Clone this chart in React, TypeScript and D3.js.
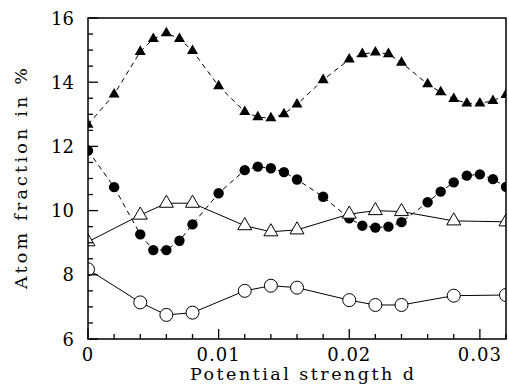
import * as d3 from "d3";
import React from "react";

// x positions (potential strength d)
const dDense = [0, 0.002, 0.004, 0.005, 0.006, 0.007, 0.008, 0.01, 0.012, 0.013, 0.014, 0.015, 0.016, 0.018, 0.02, 0.021, 0.022, 0.023, 0.024, 0.026, 0.027, 0.028, 0.029, 0.03, 0.031, 0.032];
const filledTri = [12.68, 13.62, 14.95, 15.35, 15.53, 15.35, 14.98, 13.88, 13.08, 12.91, 12.88, 13.01, 13.31, 14.07, 14.71, 14.88, 14.93, 14.88, 14.61, 13.94, 13.69, 13.48, 13.34, 13.34, 13.42, 13.61];
const filledCirc = [11.87, 10.73, 9.26, 8.77, 8.77, 9.06, 9.57, 10.54, 11.26, 11.37, 11.32, 11.2, 10.97, 10.43, 9.76, 9.53, 9.47, 9.5, 9.64, 10.26, 10.59, 10.88, 11.09, 11.13, 10.98, 10.74];

const dSparse = [0, 0.004, 0.006, 0.008, 0.012, 0.014, 0.016, 0.02, 0.022, 0.024, 0.028, 0.032];
const openTri = [9.03, 9.86, 10.23, 10.23, 9.53, 9.34, 9.4, 9.89, 10.0, 9.97, 9.68, 9.65];
const openCirc = [8.17, 7.14, 6.75, 6.82, 7.5, 7.66, 7.6, 7.21, 7.06, 7.06, 7.35, 7.37];

const xTicks = [0, 0.01, 0.02, 0.03];
const yTicks = [6, 8, 10, 12, 14, 16];

const font = "'DejaVu Serif', serif";

export default function App() {
  const W = 509;
  const H = 388;
  const m = { top: 18, right: 3, bottom: 49, left: 88 };
  const x = d3.scaleLinear().domain([0, 0.032]).range([m.left, W - m.right]);
  const y = d3.scaleLinear().domain([6, 16]).range([H - m.bottom, m.top]);

  const line = d3
    .line<[number, number]>()
    .x((d) => x(d[0]))
    .y((d) => y(d[1]));

  const zip = (xs: number[], ys: number[]) => xs.map((v, i) => [v, ys[i]] as [number, number]);

  const tri = (cx: number, cy: number, s: number) => {
    const h = (s * Math.sqrt(3)) / 2;
    return `M${cx},${cy - (2 * h) / 3}L${cx + s / 2},${cy + h / 3}L${cx - s / 2},${cy + h / 3}Z`;
  };

  const minorX = d3.range(0, 0.0321, 0.002);
  const minorY = d3.range(6, 16.01, 0.5);

  return (
    <svg width={W} height={H} style={{ position: "absolute", left: 0, top: 0, background: "#fff" }}>
      <defs>
        <clipPath id="plot">
          <rect x={m.left} y={m.top} width={x(0.032) - m.left} height={y(6) - m.top} />
        </clipPath>
      </defs>

      <g clipPath="url(#plot)">
        {/* dashed series */}
        <path d={line(zip(dDense, filledTri)) ?? undefined} fill="none" stroke="#000" strokeWidth={1} strokeDasharray="5 4" />
        <path d={line(zip(dDense, filledCirc)) ?? undefined} fill="none" stroke="#000" strokeWidth={1} strokeDasharray="5 4" />
        {/* solid series */}
        <path d={line(zip(dSparse, openTri)) ?? undefined} fill="none" stroke="#000" strokeWidth={1} />
        <path d={line(zip(dSparse, openCirc)) ?? undefined} fill="none" stroke="#000" strokeWidth={1} />

        {dDense.map((d, i) => (
          <path key={"ft" + i} d={tri(x(d), y(filledTri[i]), 11)} fill="#000" />
        ))}
        {dDense.map((d, i) => (
          <circle key={"fc" + i} cx={x(d)} cy={y(filledCirc[i])} r={5.2} fill="#000" />
        ))}
        {dSparse.map((d, i) => (
          <path key={"ot" + i} d={tri(x(d), y(openTri[i]), 14)} fill="#fff" stroke="#000" strokeWidth={1} />
        ))}
        {dSparse.map((d, i) => (
          <circle key={"oc" + i} cx={x(d)} cy={y(openCirc[i])} r={6.5} fill="#fff" stroke="#000" strokeWidth={1} />
        ))}
      </g>

      {/* frame */}
      <rect x={m.left} y={m.top} width={x(0.032) - m.left} height={y(6) - m.top} fill="none" stroke="#000" strokeWidth={1.5} />

      {/* ticks, inward */}
      {minorX.map((t, i) => {
        const major = i % 5 === 0;
        return <line key={"mx" + i} x1={x(t)} x2={x(t)} y1={y(6)} y2={y(6) - (major ? 10 : 5)} stroke="#000" strokeWidth={1.3} />;
      })}
      {minorY.map((t, i) => {
        const major = i % 4 === 0;
        return <line key={"my" + i} x1={m.left} x2={m.left + (major ? 10 : 5)} y1={y(t)} y2={y(t)} stroke="#000" strokeWidth={1.3} />;
      })}

      {xTicks.map((t) => (
        <text key={"xt" + t} x={x(t)} y={y(6) + 22} textAnchor="middle" fontFamily={font} fontSize={18} letterSpacing={1} fill="#000">
          {t === 0 ? "0" : String(t)}
        </text>
      ))}
      {yTicks.map((t) => (
        <text key={"yt" + t} x={m.left - 14} y={y(t)} textAnchor="end" dominantBaseline="central" fontFamily={font} fontSize={18} fill="#000">
          {t}
        </text>
      ))}

      <text
        x={(m.left + x(0.032)) / 2 + 5}
        y={380}
        textAnchor="middle"
        fontFamily={font}
        fontSize={17.5}
        textLength={224}
        lengthAdjust="spacing"
        fill="#000"
      >
        Potential strength d
      </text>
      <text
        transform={`translate(27,${(m.top + y(6)) / 2}) rotate(-90)`}
        textAnchor="middle"
        fontFamily={font}
        fontSize={17.5}
        textLength={221}
        lengthAdjust="spacing"
        fill="#000"
      >
        Atom fraction in %
      </text>
    </svg>
  );
}
